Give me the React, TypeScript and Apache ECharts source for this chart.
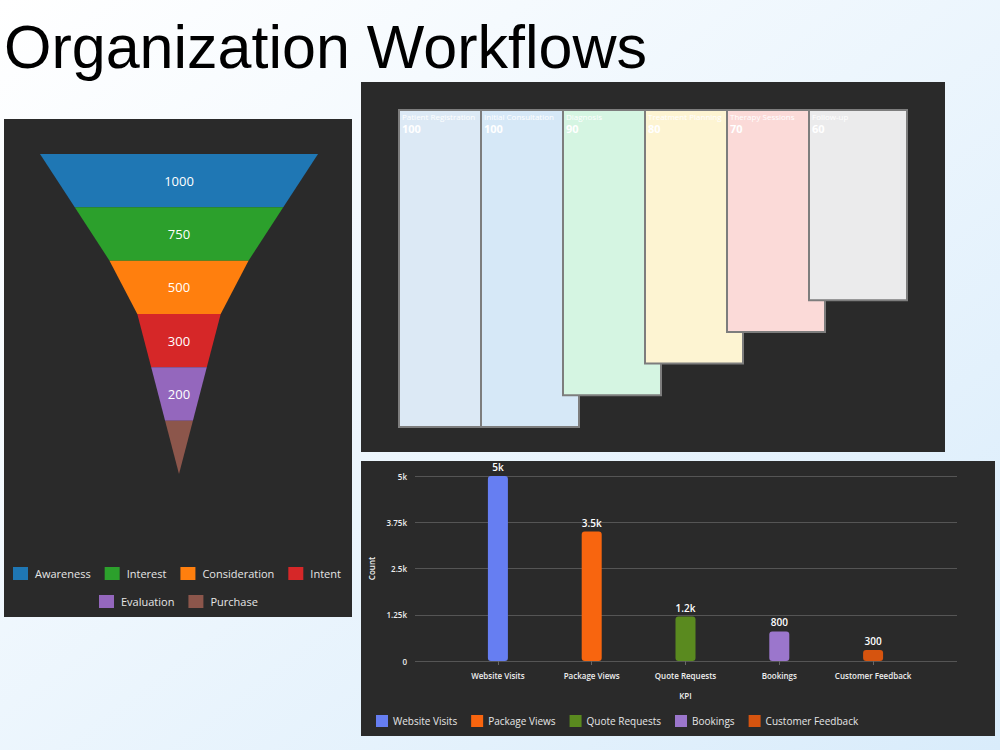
import React, { useEffect, useRef } from "react";
import * as echarts from "echarts";

const funnelStages = ["Awareness", "Interest", "Consideration", "Intent", "Evaluation", "Purchase"];
const funnelValues = [1000, 750, 500, 300, 200, 100];
const funnelColors = ["#1f77b4", "#2ca02c", "#ff7f0e", "#d62728", "#9467bd", "#8c564b"];

const journeySteps = [
  "Patient Registration",
  "Initial Consultation",
  "Diagnosis",
  "Treatment Planning",
  "Therapy Sessions",
  "Follow-up",
];
const journeyValues = [100, 100, 90, 80, 70, 60];
const journeyColors = ["#dce9f5", "#d6e8f7", "#d5f5e2", "#fdf4d2", "#fbdad8", "#ebebec"];

const kpiNames = ["Website Visits", "Package Views", "Quote Requests", "Bookings", "Customer Feedback"];
const kpiValues = [5000, 3500, 1200, 800, 300];
const kpiColors = ["#667ef2", "#f8650f", "#5a8a1f", "#9b76cc", "#d6540f"];
const countMax = 5000;
const countStep = 1250;

const FONT = "'Open Sans', 'Noto Sans', sans-serif";
const PANEL = "#2a2a2a";

const fmtK = (v: number) => (v >= 1000 ? `${+(v / 1000).toFixed(2)}k` : `${v}`);

export default function App() {
  const ref = useRef<HTMLDivElement>(null);

  useEffect(() => {
    if (!ref.current) return;
    const chart = echarts.init(ref.current, undefined, { renderer: "svg" });

    const funnelLegend = {
      icon: "rect",
      itemWidth: 15,
      itemHeight: 13,
      itemGap: 14,
      textStyle: { color: "#e6e6e6", fontSize: 11, fontFamily: FONT, padding: [0, 0, 0, 2] },
    };

    const option: any = {
      animation: false,
      graphic: [
        {
          type: "rect",
          z: -100,
          shape: { x: 0, y: 0, width: 1000, height: 750 },
          style: {
            fill: new echarts.graphic.LinearGradient(0, 0, 1, 1, [
              { offset: 0, color: "#ffffff" },
              { offset: 1, color: "#d9ecfb" },
            ]),
          },
        },
        { type: "rect", z: -50, shape: { x: 4, y: 119, width: 348, height: 498 }, style: { fill: PANEL } },
        { type: "rect", z: -50, shape: { x: 361, y: 82, width: 584, height: 370 }, style: { fill: PANEL } },
        { type: "rect", z: -50, shape: { x: 361, y: 461, width: 634, height: 275 }, style: { fill: PANEL } },
        {
          type: "text",
          z: 10,
          x: 4,
          y: 47,
          style: {
            text: "Organization Workflows",
            fill: "#000",
            fontSize: 61,
            fontFamily: "'Liberation Sans', Arial, sans-serif",
            verticalAlign: "middle",
          },
        },
      ],
      legend: [
        { ...funnelLegend, data: funnelStages.slice(0, 4), left: 8, top: 562 },
        { ...funnelLegend, data: funnelStages.slice(4), left: 94, top: 590 },
        {
          data: kpiNames,
          left: 371,
          top: 710,
          icon: "rect",
          itemWidth: 12,
          itemHeight: 12,
          itemGap: 14,
          textStyle: { color: "#e6e6e6", fontSize: 10, fontFamily: FONT },
        },
      ],
      grid: [
        { left: 399, right: 109, top: 110, bottom: 323 },
        { left: 415, right: 43, top: 476, bottom: 89 },
        { left: 451, right: 80, top: 476, bottom: 89 },
      ],
      xAxis: [
        { gridIndex: 0, type: "category", data: journeySteps, show: false },
        { gridIndex: 1, type: "category", data: kpiNames, show: false },
        {
          gridIndex: 2,
          type: "category",
          data: kpiNames,
          axisLine: { show: false },
          axisTick: { show: true, alignWithLabel: true, length: 4, lineStyle: { color: "#666" } },
          axisLabel: {
            interval: 0,
            color: "#eeeeee",
            fontSize: 8,
            fontWeight: 600,
            fontFamily: FONT,
            margin: 10,
          },
          name: "KPI",
          nameLocation: "middle",
          nameGap: 30,
          nameTextStyle: { color: "#eeeeee", fontSize: 8, fontWeight: 600, fontFamily: FONT },
        },
      ],
      yAxis: [
        { gridIndex: 0, type: "value", inverse: true, min: 0, max: 100, show: false },
        {
          gridIndex: 1,
          type: "value",
          min: 0,
          max: countMax,
          interval: countStep,
          axisLine: { show: false },
          axisTick: { show: false },
          splitLine: { lineStyle: { color: "#555555" } },
          axisLabel: {
            color: "#eeeeee",
            fontSize: 8,
            fontWeight: 600,
            fontFamily: FONT,
            margin: 8,
            formatter: (v: number) => fmtK(v),
          },
          name: "Count",
          nameLocation: "middle",
          nameGap: 22,
          nameTextStyle: { color: "#eeeeee", fontSize: 8, fontWeight: 600, fontFamily: FONT },
        },
        { gridIndex: 2, type: "value", min: 0, max: countMax, show: false },
      ],
      series: [
        {
          type: "funnel",
          left: 40,
          top: 154,
          width: 278,
          height: 320,
          min: 0,
          max: 1000,
          minSize: "0%",
          maxSize: "100%",
          sort: "descending",
          gap: 0,
          itemStyle: { borderWidth: 0 },
          label: { show: true, position: "inside", color: "#fff", fontSize: 13, fontFamily: FONT, formatter: "{c}" },
          labelLine: { show: false },
          data: funnelStages.map((name, i) => ({
            name,
            value: funnelValues[i],
            itemStyle: { color: funnelColors[i] },
            label: { show: i < funnelStages.length - 1 },
          })),
        },
        {
          type: "custom",
          xAxisIndex: 0,
          yAxisIndex: 0,
          data: journeyValues.map((v, i) => [i, v]),
          renderItem: (params: any, api: any) => {
            const i = api.value(0);
            const v = api.value(1);
            const top = api.coord([i, 0]);
            const bot = api.coord([i, v]);
            const band = api.size([1, 0])[0];
            const x = top[0] - band / 2;
            const w = (band * 98) / 82;
            return {
              type: "group",
              children: [
                {
                  type: "rect",
                  shape: { x, y: top[1], width: w, height: bot[1] - top[1] },
                  style: { fill: journeyColors[params.dataIndex], stroke: "#7d7d7d", lineWidth: 2 },
                },
                {
                  type: "text",
                  x: x + 3,
                  y: top[1] + 6,
                  style: {
                    text: journeySteps[params.dataIndex],
                    fill: "#ffffff",
                    fontSize: 8,
                    fontFamily: FONT,
                    verticalAlign: "middle",
                  },
                },
                {
                  type: "text",
                  x: x + 3,
                  y: top[1] + 18,
                  style: {
                    text: String(v),
                    fill: "#ffffff",
                    fontSize: 11,
                    fontWeight: "bold",
                    fontFamily: FONT,
                    verticalAlign: "middle",
                  },
                },
              ],
            };
          },
        },
        ...kpiNames.map((name, i) => ({
          type: "bar",
          name,
          xAxisIndex: 2,
          yAxisIndex: 2,
          stack: "kpi",
          barWidth: 20,
          itemStyle: { color: kpiColors[i], borderRadius: 3 },
          label: {
            show: true,
            position: "top",
            distance: 4,
            color: "#ffffff",
            fontSize: 10,
            fontWeight: 600,
            fontFamily: FONT,
            formatter: (p: any) => fmtK(p.value),
          },
          data: kpiNames.map((_, j) => (j === i ? kpiValues[i] : "-")),
        })),
      ],
    };

    chart.setOption(option);
    return () => chart.dispose();
  }, []);

  return <div ref={ref} style={{ position: "absolute", left: 0, top: 0, width: 1000, height: 750 }} />;
}
